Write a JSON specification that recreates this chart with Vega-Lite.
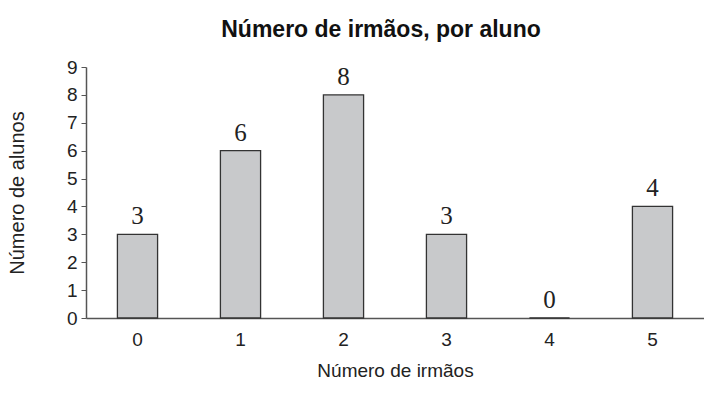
{
  "$schema": "https://vega.github.io/schema/vega-lite/v6.json",
  "autosize": "none",
  "padding": {"left": 86, "top": 67, "right": 0, "bottom": 85},
  "width": 618,
  "height": 251,
  "background": "white",
  "title": {
    "text": "Número de irmãos, por aluno",
    "font": "Liberation Sans",
    "fontSize": 23,
    "fontWeight": "bold",
    "color": "#111",
    "offset": 16,
    "dx": -14
  },
  "data": {
    "values": [
      {"irmaos": "0", "alunos": 3},
      {"irmaos": "1", "alunos": 6},
      {"irmaos": "2", "alunos": 8},
      {"irmaos": "3", "alunos": 3},
      {"irmaos": "4", "alunos": 0},
      {"irmaos": "5", "alunos": 4}
    ]
  },
  "config": {
    "view": {"stroke": null},
    "axis": {
      "labelFont": "Liberation Sans",
      "titleFont": "Liberation Sans",
      "labelFontSize": 19,
      "titleFontSize": 19,
      "titleFontWeight": "normal",
      "labelColor": "#222",
      "titleColor": "#222",
      "domainColor": "#555",
      "tickColor": "#555",
      "grid": false
    }
  },
  "encoding": {
    "x": {
      "field": "irmaos",
      "type": "ordinal",
      "sort": null,
      "scale": {"paddingInner": 0.61, "paddingOuter": 0.305},
      "axis": {
        "title": "Número de irmãos",
        "labelAngle": 0,
        "ticks": false,
        "labelPadding": 12,
        "titlePadding": 12,
        "domainWidth": 1.5
      }
    },
    "y": {
      "field": "alunos",
      "type": "quantitative",
      "scale": {"domain": [0, 9]},
      "axis": {
        "title": "Número de alunos",
        "titleFontSize": 20,
        "values": [0,1,2,3,4,5,6,7,8,9],
        "tickSize": 5,
        "labelPadding": 4,
        "titlePadding": 39,
        "domainWidth": 1.5
      }
    }
  },
  "layer": [
    {
      "mark": {"type": "bar", "fill": "#c8c9cb", "stroke": "#333", "strokeWidth": 1.3}
    },
    {
      "mark": {"type": "text", "font": "Liberation Serif", "fontSize": 25, "baseline": "bottom", "dy": -5, "color": "#222"},
      "encoding": {"text": {"field": "alunos", "type": "quantitative"}}
    }
  ]
}
